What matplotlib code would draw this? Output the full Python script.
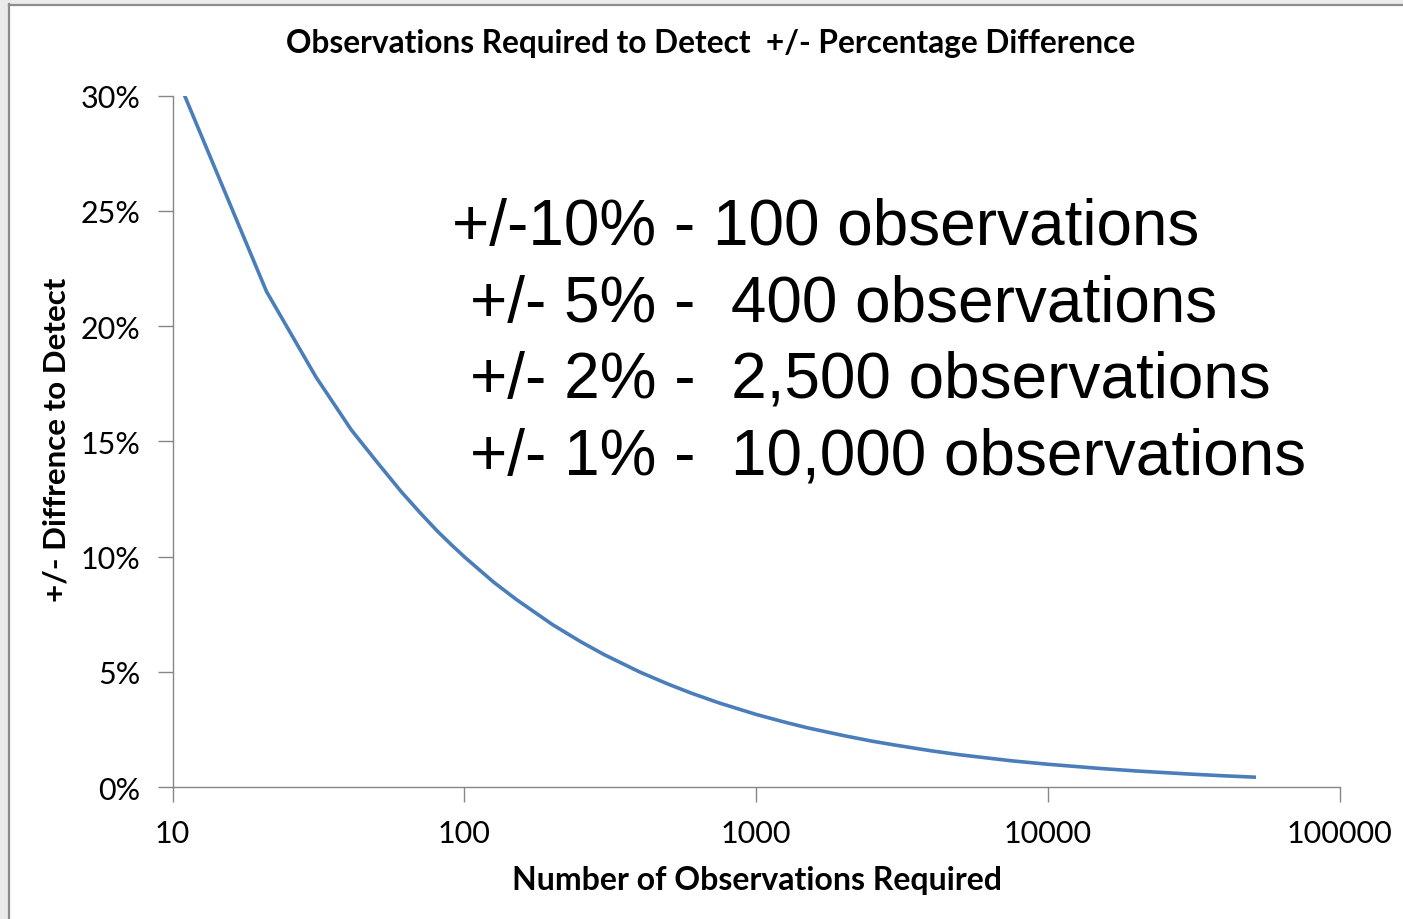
import matplotlib
matplotlib.use("Agg")
import matplotlib.pyplot as plt
from matplotlib.ticker import FixedLocator, FuncFormatter
from matplotlib.patches import Rectangle

# ---- data ----
observations = [11, 21, 31, 41, 51, 61, 71, 81, 91, 101, 126, 151, 201, 251, 301,
                401, 501, 601, 751, 1001, 1251, 1501, 2001, 2501, 3001, 4001,
                5001, 7501, 10001, 15001, 20001, 30001, 40001, 51000]
difference = [0.300, 0.215, 0.178, 0.155, 0.140, 0.128, 0.1187, 0.111, 0.1048, 0.0995,
              0.089, 0.0814, 0.0705, 0.0631, 0.0576, 0.0499, 0.0447, 0.0408, 0.0365, 0.0316,
              0.0283, 0.0258, 0.0224, 0.020, 0.0183, 0.0158, 0.0141, 0.0115, 0.0100,
              0.0082, 0.0071, 0.0058, 0.0050, 0.0044]

x_ticks = [10, 100, 1000, 10000, 100000]
y_ticks = [0.0, 0.05, 0.10, 0.15, 0.20, 0.25, 0.30]

title = "Observations Required to Detect  +/- Percentage Difference"
x_label = "Number of Observations Required"
y_label = "+/- Diffrence to Detect"
notes = ["+/-10% - 100 observations",
         "+/- 5% -  400 observations",
         "+/- 2% -  2,500 observations",
         "+/- 1% -  10,000 observations"]

W, H = 1403, 920
fig = plt.figure(figsize=(W / 100, H / 100), dpi=100)
fig.patch.set_facecolor("#ebebeb")
# white chart area with grey frame line
bg = Rectangle((9 / W, 0), 1, 1 - 7 / H, transform=fig.transFigure,
               facecolor="white", edgecolor="none", zorder=-10)
fig.add_artist(bg)
fig.add_artist(plt.Line2D([8.5 / W, 8.5 / W], [0, 1 - 5 / H], transform=fig.transFigure,
                          color="#8c8c8c", lw=1.6, zorder=-5))
fig.add_artist(plt.Line2D([8.5 / W, 1], [1 - 5.5 / H, 1 - 5.5 / H], transform=fig.transFigure,
                          color="#8c8c8c", lw=1.6, zorder=-5))

left, right, top, bottom = 172.5, 1339.5, 96.5, 788.3
ax = fig.add_axes([left / W, 1 - bottom / H, (right - left) / W, (bottom - top) / H])
ax.set_facecolor("none")
ax.set_zorder(5)

ax.plot(observations, difference, color="#4a7ebb", lw=2.6, solid_joinstyle="round")

ax.set_xscale("log")
ax.set_xlim(10, 100000)
ax.set_ylim(0, 0.30)
ax.xaxis.set_major_locator(FixedLocator(x_ticks))
ax.xaxis.set_minor_locator(FixedLocator([]))
ax.xaxis.set_major_formatter(FuncFormatter(lambda v, p: f"{int(round(v))}"))
ax.yaxis.set_major_locator(FixedLocator(y_ticks))
ax.yaxis.set_major_formatter(FuncFormatter(lambda v, p: f"{v * 100:.0f}%"))

for s in ["top", "right"]:
    ax.spines[s].set_visible(False)
for s in ["left", "bottom"]:
    ax.spines[s].set_color("#868686")
    ax.spines[s].set_linewidth(1.0)
ax.tick_params(axis="both", which="major", direction="out", length=11, width=1.0,
               color="#868686", labelsize=22, labelcolor="black")
ax.tick_params(axis="x", pad=12)
ax.tick_params(axis="y", pad=12)
for lab in ax.get_xticklabels() + ax.get_yticklabels():
    lab.set_family("Lato")

fig.text(711 / W, 1 - 43 / H, title, ha="center", va="center", fontsize=22.8,
         fontweight="bold", family="Lato")
fig.text(757 / W, 1 - 881 / H, x_label, ha="center", va="center", fontsize=23,
         fontweight="bold", family="Lato")
fig.text(57 / W, 1 - 440 / H, y_label, ha="center", va="center", rotation=90,
         fontsize=22.5, fontweight="bold", family="Lato")

xs = [452, 470, 470, 470]
baselines = [245, 321.7, 398, 475]
for t, xp, yb in zip(notes, xs, baselines):
    fig.text(xp / W, 1 - yb / H, t, ha="left", va="baseline", fontsize=46,
             family="Liberation Sans", color="black")

fig.savefig("out.png", dpi=100, facecolor=fig.get_facecolor())
